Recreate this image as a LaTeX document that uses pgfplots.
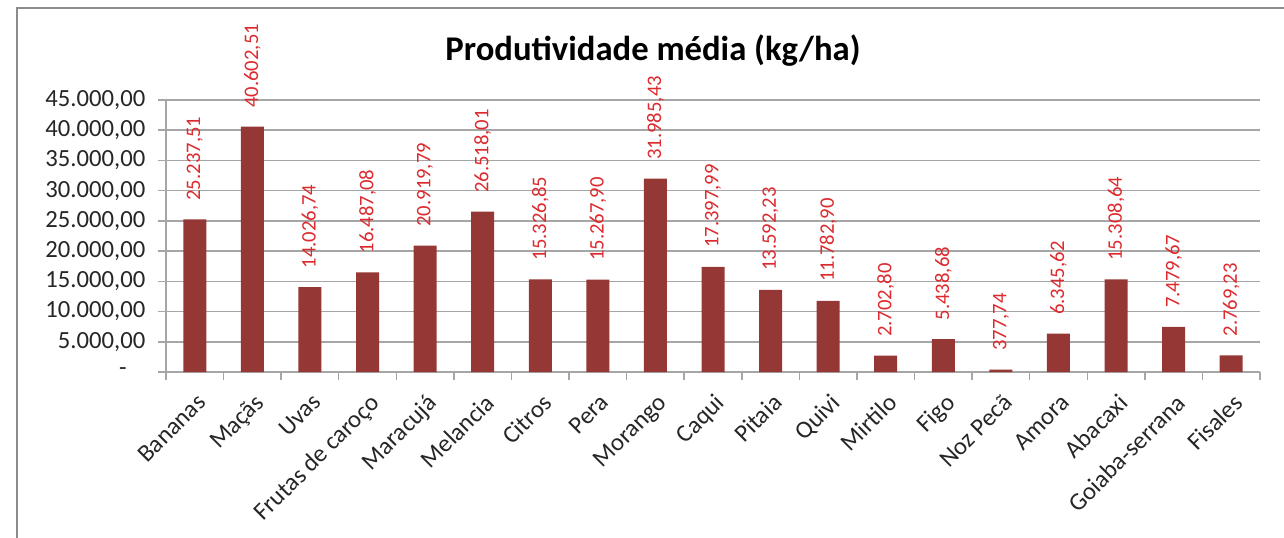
\documentclass[border=0pt]{standalone}
\usepackage{fontspec}
\setmainfont{Carlito}
\usepackage{pgfplots}
\usepackage{pgfplotstable}
\pgfplotsset{compat=1.18}
\definecolor{BarRed}{HTML}{953735}
\definecolor{LabRed}{HTML}{DC2A2E}
\definecolor{GridGray}{HTML}{A6A6A6}
\definecolor{FrameGray}{HTML}{8C8C8C}

\pgfplotstableread{
x y lab
0 25237.51 25.237,51
1 40602.51 40.602,51
2 14026.74 14.026,74
3 16487.08 16.487,08
4 20919.79 20.919,79
5 26518.01 26.518,01
6 15326.85 15.326,85
7 15267.90 15.267,90
8 31985.43 31.985,43
9 17397.99 17.397,99
10 13592.23 13.592,23
11 11782.90 11.782,90
12 2702.80 2.702,80
13 5438.68 5.438,68
14 377.74 377,74
15 6345.62 6.345,62
16 15308.64 15.308,64
17 7479.67 7.479,67
18 2769.23 2.769,23
}\prodtab

\begin{document}
\begin{tikzpicture}
% picture frame, 1px = 0.75pt
\path[use as bounding box] (0,0) rectangle (963pt,-403.5pt);
\draw[FrameGray, line width=1.5pt] (12.75pt,-404pt) -- (12.75pt,-6pt) -- (964pt,-6pt);

\begin{axis}[
    at={(124.5pt,-279pt)}, anchor=south west,
    scale only axis,
    width=820.5pt, height=204pt,
    ybar, bar width=17.25pt,
    xmin=-0.5, xmax=18.5,
    ymin=0, ymax=45000,
    scaled y ticks=false,
    axis lines*=left,
    axis line style={draw=GridGray, line width=1.1pt},
    ymajorgrids,
    grid style={draw=GridGray, line width=1.1pt},
    tick align=outside,
    ytick={0,5000,...,45000},
    yticklabels={{-\rule{14pt}{0pt}},{5.000,00},{10.000,00},{15.000,00},{20.000,00},{25.000,00},{30.000,00},{35.000,00},{40.000,00},{45.000,00}},
    ytick style={draw=GridGray, line width=1.1pt},
    major tick length=6pt,
    yticklabel style={font=\fontsize{18.5pt}{20pt}\selectfont, text=black!85, xshift=-6pt},
    xtick={0,...,18},
    xticklabels={Bananas, Maçãs, Uvas, Frutas de caroço, Maracujá, Melancia, Citros, Pera, Morango, Caqui, Pitaia, Quivi, Mirtilo, Figo, Noz Pecã, Amora, Abacaxi, Goiaba-serrana, Fisales},
    x tick style={draw=none},
    xticklabel style={font=\fontsize{18.5pt}{20pt}\selectfont, text=black!85, rotate=45, anchor=north east, inner sep=1pt, yshift=-6pt, xshift=-5pt},
    extra x ticks={-0.5,0.5,...,18.5},
    extra x tick labels={},
    extra x tick style={x tick style={draw=GridGray, line width=1.1pt}, major tick length=6pt},
    point meta=explicit symbolic,
    nodes near coords,
    every node near coord/.append style={font=\fontsize{15.5pt}{17pt}\selectfont, text=LabRed, yshift=14pt, rotate=90, anchor=west, inner sep=0pt},
    clip=false,
]
\addplot[fill=BarRed, draw=none] table[x=x, y=y, meta=lab] {\prodtab};
\end{axis}

\node[font=\fontsize{26pt}{30pt}\selectfont\bfseries] at (489.75pt,-38pt) {Produtividade média (kg/ha)};
\end{tikzpicture}
\end{document}
